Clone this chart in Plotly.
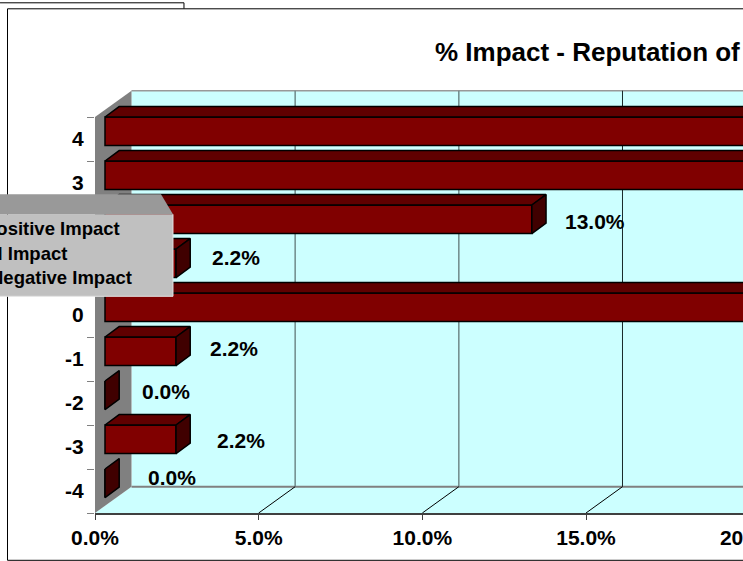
import plotly.graph_objects as go

# Data
categories = [4, 3, 2, 1, 0, -1, -2, -3, -4]
impact_pct = [28.3, 26.1, 13.04, 2.17, 28.3, 2.17, 0.0, 2.17, 0.0]
x_ticks = [0, 5, 10, 15, 20]
legend_labels = ["Positive Impact", "Nil Impact", "Negative Impact"]
title_text = "% Impact - Reputation of"

# Label nudges in pixels (the source's labels were hand placed)
label_dx = [72, 72, 73, 70, 72, 68, 71, 75, 77]
label_dy = [10, 10, 6, 14, 10, 11, 12, 7, 14]

# Geometry / style
W, H = 1100, 561
L, T, B = 95, 72.7, 512.7
PX = 32.74                      # pixels per percent
PY = 44.0                       # pixels per category
XMAX = 30
PW = XMAX * PX
PH = B - T
WALL_DX, WALL_DY = 36.5, 26.3   # depth of the 3-D box
BAR_DX = 10.0                   # bar inset from front plane
BAR_H = 28.6
TOP_DX, TOP_DY = 14.2, 10.4     # depth of the bars
CYAN = "#CCFFFF"
GREY = "#808080"
FRONT, TOP_C, SIDE = "#800000", "#600000", "#400000"
FONT = "Liberation Sans"


def xp(px):
    return (px - L) / PW


def yp(py):
    return (B - py) / PH


def path(points):
    return "M" + " L".join(f"{xp(a):.5f},{yp(b):.5f}" for a, b in points) + " Z"


def pshape(points, fill, line=None, width=1, layer="below"):
    return dict(type="path", xref="paper", yref="paper", path=path(points),
                fillcolor=fill, layer=layer,
                line=dict(color=line or "rgba(0,0,0,0)", width=width if line else 0))


def seg(x0, y0, x1, y1, color, width=1, layer="below"):
    return dict(type="line", xref="paper", yref="paper", x0=xp(x0), x1=xp(x1),
                y0=yp(y0), y1=yp(y1), line=dict(color=color, width=width), layer=layer)


shapes = []
# outer frames
shapes.append(seg(0, 2.5, 184, 2.5, "#000000"))
shapes.append(seg(184, 2.5, 184, 8.5, "#000000"))
shapes.append(pshape([(7.5, 8.5), (W - 6, 8.5), (W - 6, 560), (7.5, 560)], "#FFFFFF", "#000000", 1))

# walls and floor
BX = L + WALL_DX
TOP_FRONT = B - 9 * PY
shapes.append(pshape([(BX, TOP_FRONT - WALL_DY), (W - 20, TOP_FRONT - WALL_DY),
                      (W - 20, B - WALL_DY), (BX, B - WALL_DY)], CYAN))
shapes.append(pshape([(L, B), (BX, B - WALL_DY), (W - 20, B - WALL_DY), (W - 20, B)], CYAN))
shapes.append(pshape([(L, TOP_FRONT), (BX, TOP_FRONT - WALL_DY), (BX, B - WALL_DY), (L, B)], GREY))
shapes.append(seg(BX, TOP_FRONT - WALL_DY, W - 20, TOP_FRONT - WALL_DY, "#999999", 1.5))
shapes.append(seg(BX, B - WALL_DY, W - 20, B - WALL_DY, GREY, 2))

# back-wall grid and floor grid, placed from the axis ticks
grid_colors = {5: "#6f8a8a", 10: "#6f8a8a", 15: "#1a2a2a", 20: "#1a2a2a"}
for t in x_ticks[1:]:
    fx = L + t * PX
    shapes.append(seg(fx + WALL_DX, TOP_FRONT - WALL_DY, fx + WALL_DX, B - WALL_DY,
                      grid_colors[t], 1.5 if t < 15 else 1))
    shapes.append(seg(fx, B, fx + WALL_DX, B - WALL_DY, "#000000", 1))

# legend (its left part falls outside the window)
LG_R = 173
shapes.append(pshape([(-5, 214), (LG_R, 214), (LG_R, 296), (-5, 296)], "#C0C0C0", layer="above"))
shapes.append(pshape([(-5, 194), (161, 194), (LG_R, 214), (-5, 214)], "#999999", layer="above"))
shapes.append(seg(LG_R, 214, LG_R, 296, "#E4E4E4", 1, "above"))
shapes.append(seg(-5, 296, LG_R, 296, "#E4E4E4", 1, "above"))

fig = go.Figure()

bar_base = BAR_DX / PX
bar_shift = (PY - BAR_H) / 2 / PY
dx = TOP_DX / PX
dy = TOP_DY / PY
half = BAR_H / PY / 2

fig.add_trace(go.Bar(
    orientation="h", y=[c + bar_shift for c in categories], x=impact_pct,
    base=bar_base, width=BAR_H / PY,
    marker=dict(color=FRONT, line=dict(color="#000000", width=1.5)),
    hoverinfo="skip", showlegend=False))

for c, v in zip(categories, impact_pct):
    yc = c + bar_shift
    x0, x1 = bar_base, bar_base + v
    yt, yb = yc + half, yc - half
    if v > 0:
        fig.add_trace(go.Scatter(
            x=[x0, x0 + dx, x1 + dx, x1, x0], y=[yt, yt + dy, yt + dy, yt, yt],
            mode="lines", fill="toself", fillcolor=TOP_C,
            line=dict(color="#000000", width=1.5), hoverinfo="skip", showlegend=False))
    fig.add_trace(go.Scatter(
        x=[x1, x1 + dx, x1 + dx, x1, x1], y=[yt, yt + dy, yb + dy, yb, yt],
        mode="lines", fill="toself", fillcolor=SIDE,
        line=dict(color="#000000", width=1.5), hoverinfo="skip", showlegend=False))

annotations = [dict(xref="paper", yref="paper", x=xp(433), y=yp(52), xanchor="left", yanchor="middle",
                    text=f"<b>{title_text}</b>", showarrow=False,
                    font=dict(family=FONT, size=26, color="#000000"))]

for c, v, sx, sy in zip(categories, impact_pct, label_dx, label_dy):
    annotations.append(dict(xref="x", yref="y", x=v, y=c, xshift=sx, yshift=sy, showarrow=False,
                            text=f"<b>{v:.1f}%</b>",
                            font=dict(family=FONT, size=21, color="#000000")))

for text, right, py in zip(legend_labels, [122, 69, 134], [228.5, 253.5, 277.5]):
    annotations.append(dict(xref="paper", yref="paper", x=xp(right), y=yp(py), xanchor="right",
                            yanchor="middle", text=f"<b>{text}</b>", showarrow=False,
                            font=dict(family=FONT, size=18.5, color="#000000")))

fig.update_layout(
    width=W, height=H, autosize=False,
    margin=dict(l=L, r=W - L - PW, t=T, b=H - B, pad=0),
    paper_bgcolor="#FFFFFF", plot_bgcolor="rgba(0,0,0,0)",
    showlegend=False, barmode="overlay", shapes=shapes, annotations=annotations,
    font=dict(family=FONT, color="#000000"),
    xaxis=dict(range=[0, XMAX], tickmode="array", tickvals=x_ticks,
               ticktext=[f"<b>{t:.1f}%</b>" for t in x_ticks],
               showgrid=False, zeroline=False, showline=True, linecolor="#404040", linewidth=1.5,
               ticks="outside", ticklen=5, tickcolor="#404040",
               tickfont=dict(family=FONT, size=21, color="#000000")),
    yaxis=dict(range=[-4.5, 5.5], tickmode="array", tickvals=categories,
               ticktext=[f"<b>{c}</b>" for c in categories],
               showgrid=False, zeroline=False, showline=False,
               ticks="outside", ticklen=6, tickcolor="rgba(0,0,0,0)",
               minor=dict(tickmode="array", tickvals=[c - 0.5 for c in categories] + [4.5],
                          ticks="outside", ticklen=7, tickcolor=GREY, showgrid=False),
               tickfont=dict(family=FONT, size=21, color="#000000")),
)

fig.write_html(
    "out.html",
    post_script="document.documentElement.style.overflow='hidden';"
                "document.body.style.overflow='hidden';document.body.style.margin='0';",
)
